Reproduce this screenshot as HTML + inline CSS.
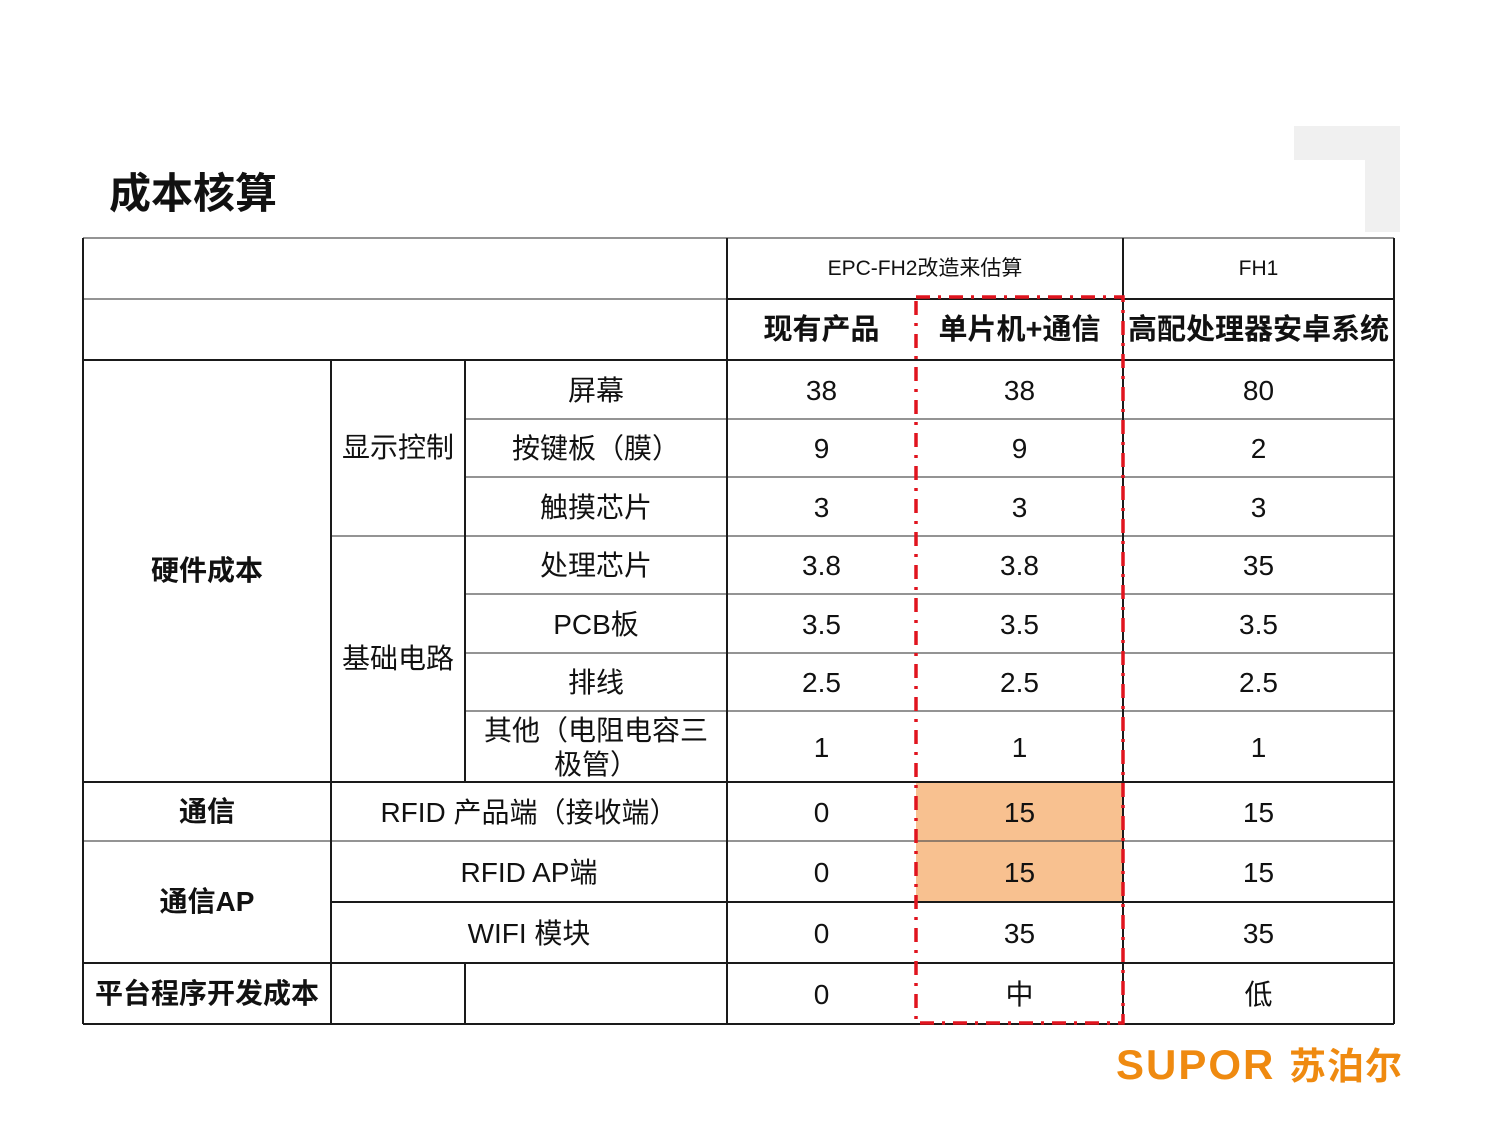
<!DOCTYPE html>
<html><head><meta charset="utf-8">
<style>
html,body{margin:0;padding:0;background:#fff;}
#slide{position:relative;width:1500px;height:1125px;overflow:hidden;background:#fff;font-family:"Liberation Sans","Noto Sans CJK SC",sans-serif;color:#111;}
.t{position:absolute;display:flex;align-items:center;justify-content:center;text-align:center;font-size:28px;line-height:34px;}
.b{font-weight:bold;}
</style></head>
<body>
<div id="slide">
  <div style="position:absolute;left:1294px;top:126px;width:106px;height:34px;background:#f0f0f0"></div>
  <div style="position:absolute;left:1365px;top:126px;width:35px;height:106px;background:#f0f0f0"></div>
  <div style="position:absolute;left:109px;top:169px;font-size:42px;font-weight:bold;line-height:50px;">成本核算</div>

  <div style="position:absolute;left:916px;top:783px;width:207px;height:119px;background:#f8c190"></div>

  <svg width="1500" height="1125" style="position:absolute;left:0;top:0">
    <g stroke="#555" stroke-width="1.2">
      <line x1="83" y1="238" x2="1394" y2="238"/>
      <line x1="83" y1="299" x2="727" y2="299"/>
      <line x1="465" y1="419" x2="1394" y2="419"/>
      <line x1="465" y1="477" x2="1394" y2="477"/>
      <line x1="331" y1="536" x2="1394" y2="536"/>
      <line x1="465" y1="594" x2="1394" y2="594"/>
      <line x1="465" y1="653" x2="1394" y2="653"/>
      <line x1="465" y1="711" x2="1394" y2="711"/>
      <line x1="83" y1="841" x2="1394" y2="841"/>
    </g>
    <g stroke="#1a1a1a" stroke-width="2">
      <line x1="727" y1="299" x2="1394" y2="299"/>
      <line x1="83" y1="360" x2="1394" y2="360"/>
      <line x1="83" y1="782" x2="1394" y2="782"/>
      <line x1="331" y1="902" x2="1394" y2="902"/>
      <line x1="83" y1="963" x2="1394" y2="963"/>
      <line x1="83" y1="1024" x2="1394" y2="1024"/>
      <line x1="83" y1="238" x2="83" y2="1024"/>
      <line x1="331" y1="360" x2="331" y2="1024"/>
      <line x1="465" y1="360" x2="465" y2="782"/>
      <line x1="465" y1="963" x2="465" y2="1024"/>
      <line x1="727" y1="238" x2="727" y2="1024"/>
      <line x1="1123" y1="238" x2="1123" y2="1024"/>
      <line x1="1394" y1="238" x2="1394" y2="1024"/>
    </g>
    <rect x="916" y="297" width="207" height="726" fill="none" stroke="#e0141e" stroke-width="3.5" stroke-dasharray="14 8 3 8"/>
  </svg>

  <div class="t" style="left:727px;top:238px;width:396px;height:61px;font-size:21px;">EPC-FH2改造来估算</div>
  <div class="t" style="left:1123px;top:238px;width:271px;height:61px;font-size:21px;">FH1</div>
  <div class="t b" style="left:727px;top:299px;width:189px;height:61px;font-size:29px;">现有产品</div>
  <div class="t b" style="left:916px;top:299px;width:207px;height:61px;font-size:29px;">单片机+通信</div>
  <div class="t b" style="left:1123px;top:299px;width:271px;height:61px;font-size:29px;">高配处理器安卓系统</div>

  <div class="t b" style="left:83px;top:360px;width:248px;height:422px;">硬件成本</div>
  <div class="t" style="left:331px;top:360px;width:134px;height:176px;">显示控制</div>
  <div class="t" style="left:331px;top:536px;width:134px;height:246px;">基础电路</div>
  <div class="t b" style="left:83px;top:782px;width:248px;height:59px;">通信</div>
  <div class="t b" style="left:83px;top:841px;width:248px;height:122px;">通信AP</div>
  <div class="t b" style="left:83px;top:963px;width:248px;height:61px;">平台程序开发成本</div>
</div>
<script>
const items = ["屏幕","按键板（膜）","触摸芯片","处理芯片","PCB板","排线","其他（电阻电容三极管）","RFID 产品端（接收端）","RFID AP端","WIFI 模块",""];
const currentVals = ["38","9","3","3.8","3.5","2.5","1","0","0","0","0"];
const mcuVals = ["38","9","3","3.8","3.5","2.5","1","15","15","35","中"];
const androidVals = ["80","2","3","35","3.5","2.5","1","15","15","35","低"];
const rowTops = [360,419,477,536,594,653,711,782,841,902,963,1024];
const slide = document.getElementById('slide');
function cell(x,y,w,h,txt,name){
  const d=document.createElement('div');
  d.className='t';
  d.style.cssText=`left:${x}px;top:${y}px;width:${w}px;height:${h}px;`;
  d.textContent=txt;
  
  
  slide.appendChild(d);
  return d;
}
for(let i=0;i<items.length;i++){
  const y=rowTops[i], h=rowTops[i+1]-rowTops[i];
  const wide = (i>=7 && i<=9);
  const ix = wide?331:465, iw = wide?396:262;
  const c = cell(ix,y+1,iw,h,items[i],'row-label');
  if(i===6){c.style.padding='0 10px';c.style.boxSizing='border-box';c.style.top=(y+1)+'px';}
  cell(727,y+1,189,h,currentVals[i],'value-current');
  cell(916,y+1,207,h,mcuVals[i],'value-mcu');
  cell(1123,y+1,271,h,androidVals[i],'value-android');
}
</script>
<div style="position:absolute;left:1116px;top:1041px;font-family:'Liberation Sans','Noto Sans CJK SC',sans-serif;font-weight:bold;color:#ef8a10;font-size:42px;line-height:48px;letter-spacing:2px;white-space:nowrap;">SUPOR <span style="font-size:37px;letter-spacing:1px">苏泊尔</span></div>
</body></html>
